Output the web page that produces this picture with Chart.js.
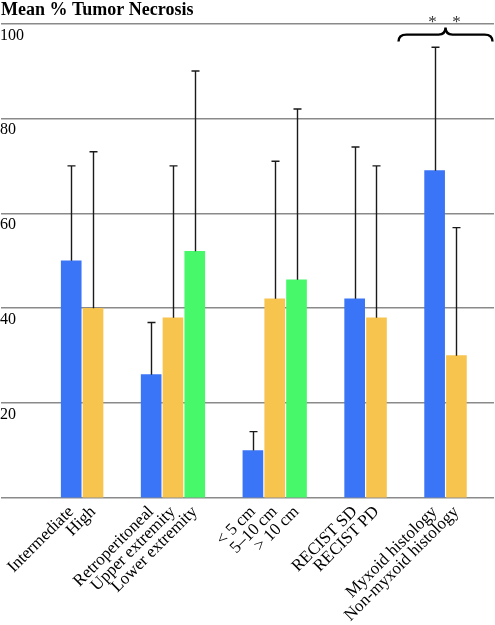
<!DOCTYPE html>
<html>
<head>
<meta charset="utf-8">
<script src="https://cdn.jsdelivr.net/npm/chart.js@4.4.1/dist/chart.umd.min.js"></script>
<style>
  html, body { margin: 0; padding: 0; background: #fff; }
  #wrap { width: 495px; height: 625px; position: relative; }
</style>
</head>
<body>
<div id="wrap"><canvas id="c"></canvas></div>
<script>
// ---- data ----
const categories = ["Intermediate", "High", "Retroperitoneal", "Upper extremity", "Lower extremity",
  "< 5 cm", "5\u201310 cm", "> 10 cm", "RECIST SD", "RECIST PD", "Myxoid histology", "Non-myxoid histology"];
const groupIndex = [0, 0, 1, 1, 1, 2, 2, 2, 3, 3, 4, 4];
const memberIndex = [0, 1, 0, 1, 2, 0, 1, 2, 0, 1, 0, 1];
const meanNecrosis = [50, 40, 26, 38, 52, 10, 42, 46, 42, 38, 69, 30];
const sdNecrosis = [20, 33, 11, 32, 38, 4, 29, 36, 32, 32, 26, 27];
const yTicks = [20, 40, 60, 80, 100];
const significantGroup = 4;
const significanceMarks = ["*", "*"];

// ---- layout helpers ----
const GROUP_EXTRA = 5 / 3;           // extra slots between groups
const positions = categories.map((_, i) => i + groupIndex[i] * GROUP_EXTRA);
const palette = ["#3a74f7", "#f7c44d", "#46f86a"];
const SERIF = 'Liberation Serif';

const errorBars = {
  id: 'errorBars',
  afterDatasetsDraw(chart) {
    const { ctx, scales: { x, y } } = chart;
    ctx.save();
    ctx.strokeStyle = '#1a1a1a';
    ctx.lineWidth = 1.4;
    positions.forEach((p, i) => {
      const px = Math.round(x.getPixelForValue(p)) + 0.5;
      const y0 = y.getPixelForValue(meanNecrosis[i]);
      const y1 = y.getPixelForValue(meanNecrosis[i] + sdNecrosis[i]);
      ctx.beginPath();
      ctx.moveTo(px, y0);
      ctx.lineTo(px, y1);
      ctx.moveTo(px - 4, y1);
      ctx.lineTo(px + 4, y1);
      ctx.stroke();
    });
    ctx.restore();
  }
};

const yLabels = {
  id: 'yLabels',
  afterDraw(chart) {
    const { ctx, scales: { y } } = chart;
    ctx.save();
    ctx.fillStyle = '#000';
    ctx.font = '16px "' + SERIF + '"';
    ctx.textAlign = 'left';
    ctx.textBaseline = 'alphabetic';
    yTicks.forEach(v => {
      ctx.fillText(String(v), 0, y.getPixelForValue(v) + 16);
    });
    // significance brace over last group
    const idx = categories.map((_, i) => i).filter(i => groupIndex[i] === significantGroup);
    const cx = (chart.scales.x.getPixelForValue(positions[idx[0]]) +
                chart.scales.x.getPixelForValue(positions[idx[idx.length - 1]])) / 2;
    const top = y.getPixelForValue(100);
    const half = 47;
    const yl = top + 11;
    ctx.strokeStyle = '#000';
    ctx.lineWidth = 2.4;
    ctx.beginPath();
    ctx.moveTo(cx - half, top + 18);
    ctx.quadraticCurveTo(cx - half, yl, cx - half + 8, yl);
    ctx.lineTo(cx - 7, yl);
    ctx.quadraticCurveTo(cx, yl, cx, top + 4);
    ctx.quadraticCurveTo(cx, yl, cx + 7, yl);
    ctx.lineTo(cx + half - 8, yl);
    ctx.quadraticCurveTo(cx + half, yl, cx + half, top + 18);
    ctx.stroke();
    ctx.fillStyle = '#333';
    ctx.font = '17px "' + SERIF + '"';
    ctx.textAlign = 'center';
    ctx.fillText(significanceMarks[0], cx - 13, top + 3);
    ctx.fillText(significanceMarks[1], cx + 11, top + 3);
    ctx.restore();
  }
};

new Chart(document.getElementById('c'), {
  type: 'bar',
  data: {
    datasets: [{
      data: positions.map((p, i) => ({ x: p, y: meanNecrosis[i] })),
      backgroundColor: memberIndex.map(m => palette[m]),
      borderWidth: 0,
      barThickness: 20
    }]
  },
  options: {
    responsive: true,
    maintainAspectRatio: false,
    animation: false,
    layout: { padding: { left: 1, right: 1, top: 0, bottom: 0 } },
    plugins: {
      legend: { display: false },
      tooltip: { enabled: false },
      title: {
        display: true,
        text: 'Mean % Tumor Necrosis',
        align: 'start',
        color: '#000',
        font: { family: SERIF, size: 18, weight: 'bold' },
        padding: { top: 0, bottom: 2 }
      }
    },
    scales: {
      x: {
        type: 'linear',
        offset: false,
        min: -3.22,
        max: 19.39,
        grid: { display: false },
        border: { display: false },
        afterBuildTicks(axis) { axis.ticks = positions.map(v => ({ value: v })); },
        afterFit(axis) { axis.height = 127; },
        ticks: {
          autoSkip: false,
          minRotation: 45,
          maxRotation: 45,
          padding: -4,
          color: '#000',
          font: { family: SERIF, size: 17 },
          callback: (v, i) => categories[i]
        }
      },
      y: {
        min: 0,
        max: 100,
        afterBuildTicks(axis) { axis.ticks = [0].concat(yTicks).map(v => ({ value: v })); },
        ticks: { display: false },
        border: { display: false },
        grid: { color: '#8a8a8a', lineWidth: 1.5, drawTicks: false }
      }
    }
  },
  plugins: [errorBars, yLabels]
});
</script>
</body>
</html>
